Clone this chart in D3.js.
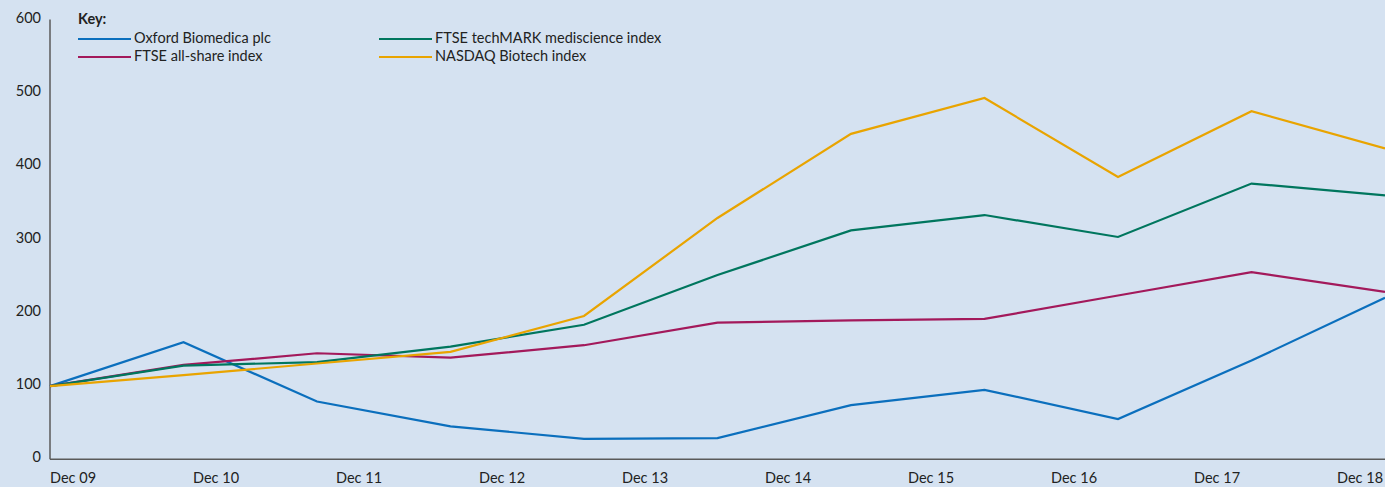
<!DOCTYPE html>
<html>
<head>
<meta charset="utf-8">
<script src="https://cdn.jsdelivr.net/npm/d3@7"></script>
<style>
  html, body { margin: 0; padding: 0; background: #d5e2f1; }
  svg { display: block; }
  text { font-family: Lato, "Open Sans", sans-serif; fill: #222; }
</style>
</head>
<body>
<svg id="chart" width="1385" height="487"></svg>
<script>
// ---- data ----
const xLabels = ["Dec 09","Dec 10","Dec 11","Dec 12","Dec 13","Dec 14","Dec 15","Dec 16","Dec 17","Dec 18"];
const periods = [0,1,2,3,4,5,6,7,8,9,10];
const yTicks = [0,100,200,300,400,500,600];

const oxford   = [100, 160, 79, 45, 28, 29, 74, 95, 55, 135, 221];
const ftseAll  = [100, 129, 145, 139, 156, 187, 190, 192, 224, 256, 229];
const techMARK = [100, 128, 133, 154, 184, 252, 313, 334, 304, 377, 361];
const nasdaq   = [100, 115, 131, 147, 196, 330, 445, 494, 386, 476, 425];

const seriesNames  = ["Oxford Biomedica plc", "FTSE all-share index", "FTSE techMARK mediscience index", "NASDAQ Biotech index"];
const seriesColors = ["#0b6fbd", "#a3195b", "#00765e", "#e9a400"];
const seriesValues = [oxford, ftseAll, techMARK, nasdaq];

// ---- layout ----
(function () {
const svg = d3.select("#chart");
const mLeft = 50, mRight = 1385, mTop = 20.5, mBottom = 459.3;
const fs = "14.5px";

const x = d3.scalePoint().domain(periods).range([mLeft, mRight]);
const xl = d3.scalePoint().domain(xLabels).range([mLeft, 1337]);
const y = d3.scaleLinear().domain([0, 600]).range([mBottom, mTop]);

// axes lines
svg.append("line").attr("x1", mLeft).attr("x2", mLeft).attr("y1", mTop - 1).attr("y2", mBottom)
  .attr("stroke", "#5a5a5a").attr("stroke-width", 1.5);
svg.append("line").attr("x1", mLeft).attr("x2", mRight).attr("y1", mBottom).attr("y2", mBottom)
  .attr("stroke", "#5a5a5a").attr("stroke-width", 1.5);

// y tick labels
svg.append("g").selectAll("text").data(yTicks).join("text")
  .attr("x", 41).attr("y", d => y(d) - 1)
  .attr("text-anchor", "end").attr("dominant-baseline", "middle")
  .style("font-size", fs).text(d => d);

// x labels
svg.append("g").selectAll("text").data(xLabels).join("text")
  .attr("x", d => xl(d)).attr("y", 483)
  .attr("text-anchor", "start")
  .style("font-size", fs).text(d => d);

// lines
const line = d3.line().x((d, i) => x(periods[i])).y(d => y(d));
svg.append("g").selectAll("path").data([0, 1, 2, 3]).join("path")
  .attr("d", i => line(seriesValues[i]))
  .attr("fill", "none")
  .attr("stroke", i => seriesColors[i])
  .attr("stroke-width", 2.2)
  .attr("stroke-linejoin", "miter");

// legend
const lg = svg.append("g");
lg.append("text").attr("x", 78).attr("y", 24).style("font-size", fs).style("font-weight", "bold").text("Key:");
const legendPos = [
  {lx: 78, ly: 39}, {lx: 78, ly: 57}, {lx: 379, ly: 39}, {lx: 379, ly: 57}
];
seriesNames.forEach((name, i) => {
  const p = legendPos[i];
  lg.append("line").attr("x1", p.lx).attr("x2", p.lx + 53).attr("y1", p.ly).attr("y2", p.ly)
    .attr("stroke", seriesColors[i]).attr("stroke-width", 2.2);
  lg.append("text").attr("x", p.lx + 56).attr("y", p.ly).attr("dominant-baseline", "middle")
    .style("font-size", fs).text(name);
});
})();
</script>
</body>
</html>
